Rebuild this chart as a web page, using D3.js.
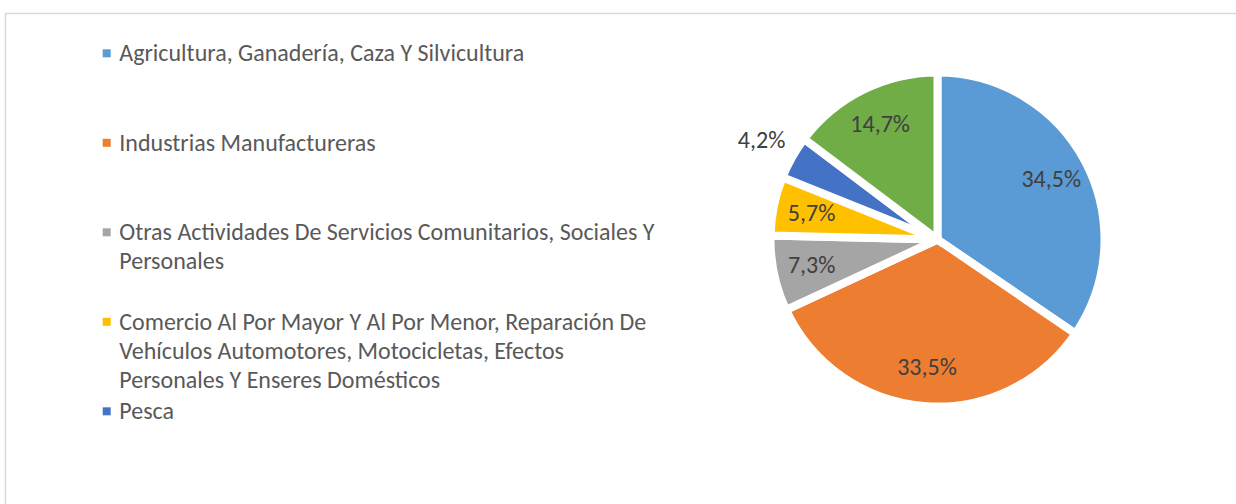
<!DOCTYPE html>
<html>
<head>
<meta charset="utf-8">
<script src="https://cdn.jsdelivr.net/npm/d3@7"></script>
<style>
  body { margin: 0; background: #fff; }
  text { font-family: Carlito, Calibri, "Liberation Sans", sans-serif; }
</style>
</head>
<body>
<svg id="chart" width="1236" height="504"></svg>
<script>
// Sector names (the legend only has room for the first five)
const categories = [
  'Agricultura, Ganadería, Caza Y Silvicultura',
  'Industrias Manufactureras',
  'Otras Actividades De Servicios Comunitarios, Sociales Y Personales',
  'Comercio Al Por Mayor Y Al Por Menor, Reparación De Vehículos Automotores, Motocicletas, Efectos Personales Y Enseres Domésticos',
  'Pesca',
  'Otros'
]
// Share of each sector, in percent
const shares = [34.5, 33.5, 7.3, 5.7, 4.2, 14.7]
const colors = ['#5B9BD5', '#ED7D31', '#A5A5A5', '#FFC000', '#4472C4', '#70AD47']
const legendCount = 5

const width = 1236
const height = 504
const cx = 937.5
const cy = 239.5
const R = 167

const svg = d3.select('#chart')

// Chart area frame (right and bottom edges fall outside the picture)
svg.append('rect')
  .attr('x', 5.5)
  .attr('y', 13.5)
  .attr('width', width + 20)
  .attr('height', height + 20)
  .attr('fill', '#fff')
  .attr('stroke', '#D9D9D9')
  .attr('stroke-width', 1.5)

const data = categories.map((name, i) => ({ name, value: shares[i], color: colors[i] }))

const pie = d3.pie()
  .value(d => d.value)
  .sort(null)

const arcs = pie(data)

const arc = d3.arc().innerRadius(0).outerRadius(R)
const labelArcIn = d3.arc().innerRadius(R * 0.77).outerRadius(R * 0.77)
const labelArcOut = d3.arc().innerRadius(R * 1.21).outerRadius(R * 1.21)

const g = svg.append('g').attr('transform', `translate(${cx},${cy})`)

g.selectAll('path.slice')
  .data(arcs)
  .join('path')
  .attr('class', 'slice')
  .attr('d', arc)
  .attr('fill', d => d.data.color)
  .attr('stroke', '#fff')
  .attr('stroke-width', 8)
  .attr('stroke-linejoin', 'miter')

const fmt = v => d3.format('.1f')(v).replace('.', ',') + '%'

g.selectAll('text.label')
  .data(arcs)
  .join('text')
  .attr('class', 'label')
  .attr('transform', d => {
    const a = d.data.value < 5 ? labelArcOut : labelArcIn
    return `translate(${a.centroid(d)})`
  })
  .attr('text-anchor', 'middle')
  .attr('dy', '0.32em')
  .style('font-size', '24px')
  .style('fill', '#404040')
  .text(d => fmt(d.data.value))

// Legend
const legendX = 102.7
const textX = 119.3
const maxTextWidth = 540
const y = d3.scalePoint()
  .domain(d3.range(legendCount))
  .range([61, 419])

const legend = svg.append('g')

data.slice(0, legendCount).forEach((d, i) => {
  const base = y(i)
  legend.append('rect')
    .attr('x', legendX)
    .attr('y', base - 11.7)
    .attr('width', 8)
    .attr('height', 8)
    .attr('fill', d.color)

  const t = legend.append('text')
    .attr('x', textX)
    .attr('y', base)
    .style('font-size', '24px')
    .style('fill', '#595959')

  // Wrap the label word by word to the legend width
  const words = d.name.split(' ')
  let line = []
  let lineNo = 0
  let tspan = t.append('tspan').attr('x', textX).attr('dy', 0)
  words.forEach(w => {
    line.push(w)
    tspan.text(line.join(' '))
    if (tspan.node().getComputedTextLength() > maxTextWidth && line.length > 1) {
      line.pop()
      tspan.text(line.join(' '))
      line = [w]
      lineNo++
      tspan = t.append('tspan').attr('x', textX).attr('dy', 29.3).text(w)
    }
  })
})
</script>
</body>
</html>
